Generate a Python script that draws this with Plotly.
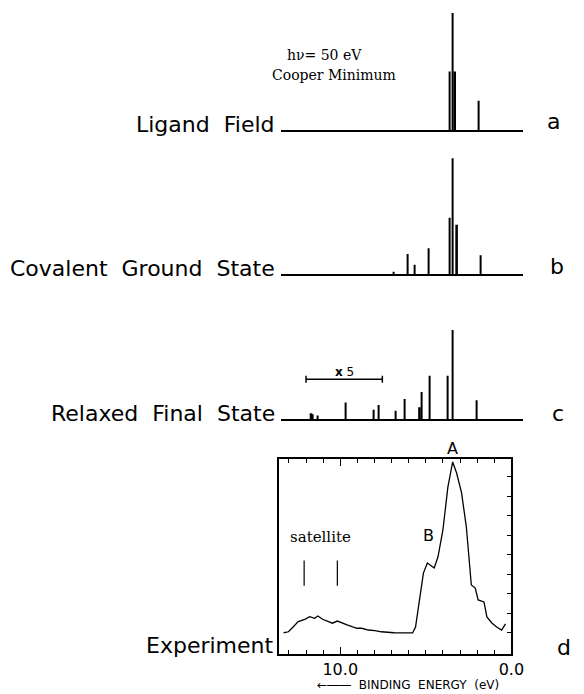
import plotly.graph_objects as go

W, H = 584, 694

# ---------------- data (binding energy in eV, relative intensity) ----------------
a_energy = [3.60, 3.43, 3.31, 1.94]
a_inten = [50, 100, 50, 25]

b_energy = [6.91, 6.06, 5.66, 4.86, 3.60, 3.43, 3.20, 1.77]
b_inten = [2, 17, 8, 22, 48, 99, 42, 16]

c_energy = [11.71, 11.60, 11.31, 9.66, 8.06, 7.77, 6.74, 6.23, 5.37, 5.26, 4.80, 3.71, 3.43, 2.06]
c_inten = [5, 4, 3, 14, 8, 12, 7, 17, 10, 23, 37, 37, 76, 16]

exp_energy = [13.31, 13.03, 12.74, 12.46, 12.07, 11.79, 11.50, 11.31, 11.03, 10.74, 10.46,
              10.17, 9.89, 9.60, 9.31, 9.03, 8.74, 8.36, 7.98, 7.60, 6.86, 6.46, 5.77,
              5.60, 5.43, 5.14, 4.91, 4.74, 4.51, 4.29, 4.00, 3.71, 3.43, 3.20, 2.91,
              2.63, 2.34, 2.11, 1.94, 1.60, 1.43, 1.14, 0.86, 0.57, 0.34]
exp_inten = [10.9, 11.4, 14.0, 16.6, 17.8, 19.1, 18.3, 19.5, 17.8, 16.6, 15.8,
             16.9, 15.8, 14.9, 14.0, 13.2, 13.2, 12.3, 12.0, 11.4, 10.9, 10.8, 10.8,
             13.8, 24.1, 41.5, 46.7, 45.6, 44.1, 49.7, 63.6, 85.6, 98.5, 92.8, 82.6,
             65.1, 35.4, 33.8, 27.7, 26.7, 19.0, 15.9, 13.8, 12.3, 15.4]

satellite_energy = [12.11, 10.17]
x5_range = [12.0, 7.54]
peak_labels = {"A": 3.43, "B": 4.86}

panel_names = ["Ligand  Field", "Covalent  Ground  State", "Relaxed  Final  State", "Experiment"]
panel_letters = ["a", "b", "c", "d"]

# ---------------- styles / geometry ----------------
THICK = {"a": [3.31], "b": [3.20], "c": [5.37, 11.71]}
PX_PER_EV = 17.5


def xp(p):
    return p / W


def yp(p):
    return 1 - p / H


EXP_LEFT, EXP_RIGHT = 285, 523
EXP_TOP, EXP_BOT = 459, 654
EXP_RANGE = [(EXP_RIGHT - EXP_LEFT) / PX_PER_EV, 0]
ST_LEFT, ST_RIGHT = 287, 535
ST_RANGE = [EXP_RANGE[0] - (ST_LEFT - EXP_LEFT) / PX_PER_EV, -(ST_RIGHT - EXP_RIGHT) / PX_PER_EV]
PX_PER_UNIT = 1.17
PANEL_H = 125
baselines = {"a": 130, "b": 274, "c": 419}

fig = go.Figure()

SANS = "DejaVu Sans"
SERIF = "DejaVu Serif"

stick_data = {"a": (a_energy, a_inten), "b": (b_energy, b_inten), "c": (c_energy, c_inten)}
for i, key in enumerate(["a", "b", "c"]):
    ax = i + 2
    en, it = stick_data[key]
    thin_w = 0.06
    thick_w = 0.15
    widths = [thick_w if e in THICK[key] else thin_w for e in en]
    fig.add_trace(go.Bar(x=en, y=it, width=widths, marker=dict(color="black", line=dict(width=0)),
                         xaxis=f"x{ax}", yaxis=f"y{ax}", showlegend=False, hoverinfo="skip"))
    bl = baselines[key]
    fig.update_layout(**{
        f"xaxis{ax}": dict(domain=[xp(ST_LEFT), xp(ST_RIGHT)], range=ST_RANGE, anchor=f"y{ax}",
                           showline=True, linecolor="black", linewidth=1.6, showgrid=False,
                           zeroline=False, ticks="", showticklabels=False),
        f"yaxis{ax}": dict(domain=[yp(bl), yp(bl - PANEL_H)], range=[0, PANEL_H / PX_PER_UNIT],
                           anchor=f"x{ax}", visible=False),
    })

# x5 marker bar on panel c
fig.add_trace(go.Scatter(x=x5_range, y=[34, 34], mode="lines+markers",
                         line=dict(color="black", width=1.5),
                         marker=dict(symbol="line-ns", size=5, line=dict(color="black", width=1.5)),
                         xaxis="x4", yaxis="y4", showlegend=False, hoverinfo="skip"))

# experiment
fig.add_trace(go.Scatter(x=exp_energy, y=exp_inten, mode="lines",
                         line=dict(color="black", width=1.3),
                         xaxis="x", yaxis="y", showlegend=False, hoverinfo="skip"))
for e in satellite_energy:
    fig.add_trace(go.Scatter(x=[e, e], y=[35, 48], mode="lines", line=dict(color="black", width=1.2),
                             xaxis="x", yaxis="y", showlegend=False, hoverinfo="skip"))

fig.update_layout(
    xaxis=dict(domain=[xp(EXP_LEFT), xp(EXP_RIGHT)], range=EXP_RANGE, anchor="y",
               showline=True, linecolor="black", linewidth=1.5, mirror="allticks",
               ticks="inside", ticklen=7, tickcolor="black", tickwidth=1.2,
               tickvals=[10, 0], ticktext=["10.0", "0.0"],
               tickfont=dict(family=SANS, size=16, color="black"),
               minor=dict(ticks="inside", dtick=1, tick0=0, ticklen=4, tickcolor="black", tickwidth=1),
               showgrid=False, zeroline=False),
    yaxis=dict(domain=[yp(EXP_BOT), yp(EXP_TOP)], range=[0, 100], anchor="x", side="right",
               showline=True, linecolor="black", linewidth=1.5, mirror=True,
               ticks="inside", ticklen=5, tickcolor="black", tickwidth=1.2,
               tickvals=[10.8 + 10 * k for k in range(9)], showticklabels=False,
               showgrid=False, zeroline=False),
)

ann = []
label_y = {"a": 125, "b": 268, "c": 413}
for key, name in zip(["a", "b", "c"], panel_names[:3]):
    ann.append(dict(text=name, x=xp(283), y=yp(label_y[key]), xref="paper", yref="paper",
                    xanchor="right", yanchor="middle", showarrow=False,
                    font=dict(family=SANS, size=22, color="black")))
ann.append(dict(text=panel_names[3], x=xp(281), y=yp(645), xref="paper", yref="paper",
                xanchor="right", yanchor="middle", showarrow=False,
                font=dict(family=SANS, size=22, color="black")))
letter_pos = {"a": (566, 122), "b": (570, 266), "c": (571, 413), "d": (577, 647)}
for key in panel_letters:
    x, y = letter_pos[key]
    ann.append(dict(text=key, x=xp(x), y=yp(y), xref="paper", yref="paper",
                    xanchor="center", yanchor="middle", showarrow=False,
                    font=dict(family=SANS, size=22, color="black")))

ann.append(dict(text="hν= 50 eV", x=xp(332), y=yp(45), xref="paper", yref="paper",
                showarrow=False, font=dict(family=SERIF, size=14, color="black")))
ann.append(dict(text="Cooper Minimum", x=xp(342), y=yp(65), xref="paper", yref="paper",
                showarrow=False, font=dict(family=SERIF, size=14, color="black")))
ann.append(dict(text="<b>x</b> 5", x=sum(x5_range) / 2, y=yp(372), xref="x4", yref="paper",
                showarrow=False, font=dict(family=SANS, size=12, color="black")))
ann.append(dict(text="satellite", x=sum(satellite_energy) / 2, y=yp(548), xref="x", yref="paper",
                showarrow=False, font=dict(family=SERIF, size=15, color="black")))
ann.append(dict(text="A", x=peak_labels["A"], y=yp(448), xref="x", yref="paper",
                showarrow=False, font=dict(family=SANS, size=16, color="black")))
ann.append(dict(text="B", x=peak_labels["B"], y=yp(547), xref="x", yref="paper",
                showarrow=False, font=dict(family=SANS, size=16, color="black")))
ann.append(dict(text="←――  BINDING  ENERGY  (eV)", x=xp(417), y=yp(694), xref="paper", yref="paper",
                xanchor="center", yanchor="bottom", showarrow=False,
                font=dict(family=SANS, size=12, color="black")))

fig.update_layout(annotations=ann, width=W, height=H, margin=dict(l=0, r=0, t=0, b=0),
                  paper_bgcolor="white", plot_bgcolor="rgba(0,0,0,0)", barmode="overlay")

fig.write_html("out.html")
